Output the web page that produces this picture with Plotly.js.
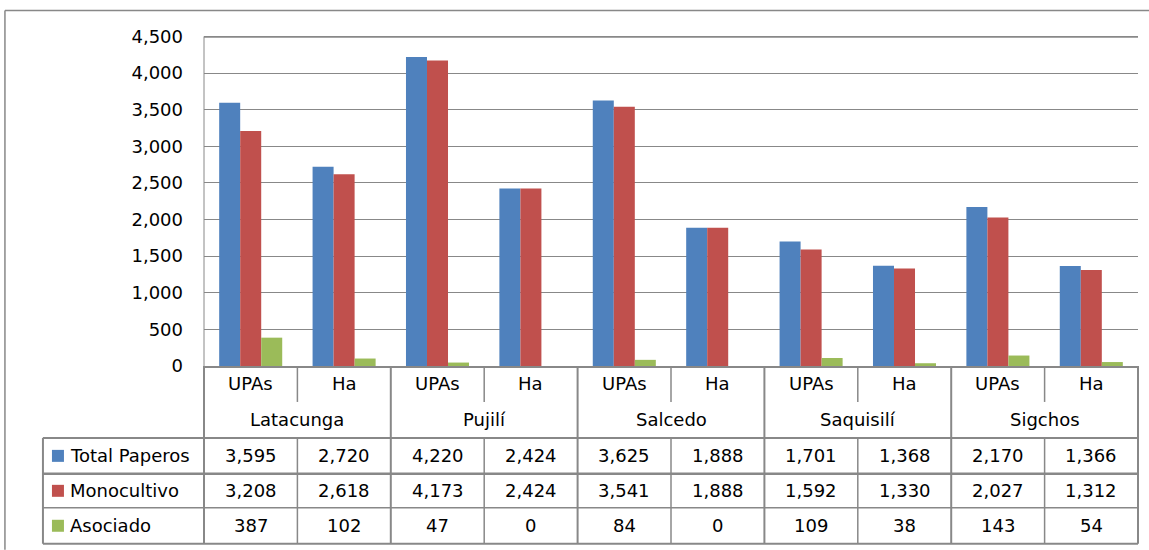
<!DOCTYPE html>
<html><head><meta charset="utf-8">
<script src="https://cdn.plot.ly/plotly-3.0.1.min.js"></script>
<style>html,body{margin:0;padding:0;background:#fff;}#chart{width:1149px;height:550px;}</style>
</head><body><div id="chart"></div>
<script>
const cantons = ['Latacunga', 'Pujilí', 'Salcedo', 'Saquisilí', 'Sigchos'];
const measures = ['UPAs', 'Ha'];
const seriesNames = ['Total Paperos', 'Monocultivo', 'Asociado'];
const totalPaperos = [3595, 2720, 4220, 2424, 3625, 1888, 1701, 1368, 2170, 1366];
const monocultivo = [3208, 2618, 4173, 2424, 3541, 1888, 1592, 1330, 2027, 1312];
const asociado = [387, 102, 47, 0, 84, 0, 109, 38, 143, 54];
const yTicks = [0, 500, 1000, 1500, 2000, 2500, 3000, 3500, 4000, 4500];

const colors = ['#4F81BD', '#C0504D', '#9BBB59'];
const seriesData = [totalPaperos, monocultivo, asociado];
const FONT = 'DejaVu Sans, Verdana, sans-serif';
const W = 1149, H = 550;
const YMAX = 4500, YPAD = 20;
const L = 204, R = 1137.7, B = 366;
const T = 36 - YPAD * (B - 36) / YMAX;
const px = x => (x - L) / (R - L);
const py = y => (B - y) / (B - T);
const GRID = '#888888';

const idx = totalPaperos.map((_, i) => i);
const traces = seriesData.map((d, s) => ({
  type: 'bar', x: idx, y: d, name: seriesNames[s],
  marker: {color: colors[s]}, hoverinfo: 'x+y+name'
}));

const shapes = [];
const annotations = [];
function line(x0, y0, x1, y1, w, c) {
  shapes.push({type: 'line', xref: 'paper', yref: 'paper', x0: px(x0), x1: px(x1), y0: py(y0), y1: py(y1),
    line: {color: c || GRID, width: w || 1}});
}
// outer chart border
line(5, 10, 1149, 10, 1.5);
line(5, 10, 5, 550, 1.5);
// top (4,500) gridline, reinforced
line(L, 36.5, R, 36.5, 1.6);

const colW = (R - L) / idx.length;
const rows = {sub: [366, 402], grp: [402, 438], r0: [438, 474], r1: [474, 508], r2: [508, 544]};
line(L, 438, R, 438, 2);
line(43, 438, L, 438, 2);
line(43, 474, R, 474, 2.5);
line(43, 508, R, 508, 1.5);
line(43, 544, R, 544, 2);
line(43, 438, 43, 544, 2);
for (let i = 0; i <= idx.length; i++) {
  const x = L + i * colW;
  if (i % 2 === 0) {
    line(x, 366, x, 544, 2);
  } else {
    line(x, 366, x, 402, 1.5);
    line(x, 438, x, 544, 1.5);
  }
}
function txt(xv, xref, yc, text, anchor) {
  annotations.push({x: xv, xref: xref, y: py(yc), yref: 'paper', text: text, showarrow: false,
    xanchor: anchor || 'center', yanchor: 'middle', font: {family: FONT, size: 18, color: '#000'}});
}
const mid = r => (r[0] + r[1]) / 2;
idx.forEach(i => txt(i, 'x', mid(rows.sub), measures[i % 2]));
cantons.forEach((c, g) => txt(2 * g + 0.5, 'x', mid(rows.grp), c));
const rowKeys = ['r0', 'r1', 'r2'];
seriesData.forEach((d, s) => {
  const yc = mid(rows[rowKeys[s]]);
  d.forEach((v, i) => txt(i, 'x', yc, v.toLocaleString('en-US')));
  shapes.push({type: 'rect', xref: 'paper', yref: 'paper', x0: px(52), x1: px(64), y0: py(yc - 6), y1: py(yc + 6),
    fillcolor: colors[s], line: {width: 0}});
  txt(px(68), 'paper', yc, seriesNames[s], 'left');
});
// left axis line from 0 to the 4,500 gridline
line(L, B, L, 36, 1);

const layout = {
  width: W, height: H,
  margin: {l: L, r: W - R, t: T, b: H - B, pad: 0},
  paper_bgcolor: '#fff', plot_bgcolor: '#fff',
  barmode: 'group', bargap: 0.325, bargroupgap: 0,
  showlegend: false,
  xaxis: {range: [-0.5, idx.length - 0.5], showticklabels: false, ticks: '', showgrid: false, zeroline: false,
    showline: true, linecolor: GRID, linewidth: 1.5, fixedrange: true},
  yaxis: {range: [0, YMAX + YPAD], tickvals: yTicks, ticktext: yTicks.map(v => v.toLocaleString('en-US')),
    showgrid: true, gridcolor: GRID, gridwidth: 1, zeroline: false, showline: false, fixedrange: true,
    ticks: '', ticklabelstandoff: 20, tickfont: {family: FONT, size: 18, color: '#000'}},
  shapes: shapes, annotations: annotations
};
Plotly.newPlot('chart', traces, layout, {displayModeBar: false, staticPlot: true});
</script></body></html>
